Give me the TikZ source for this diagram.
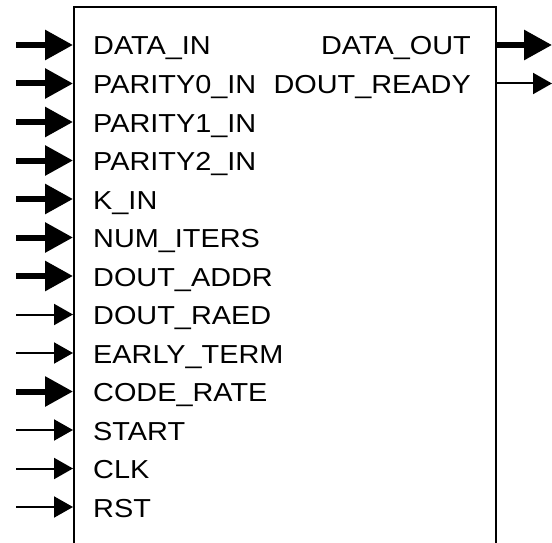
\documentclass[tikz,border=0pt]{standalone}
\usepackage{fontspec}
\setmainfont{Liberation Sans}[FakeStretch=1.11]
\usetikzlibrary{arrows.meta}
\tikzset{
  pinin/.style={anchor=base west, inner sep=0pt, font=\fontsize{26}{26}\selectfont},
  pinout/.style={anchor=base east, inner sep=0pt, font=\fontsize{26}{26}\selectfont},
  bus/.style={line width=6pt, -{Triangle[length=28pt,width=29pt]}},
  wire/.style={line width=2pt, -{Triangle[length=19pt,width=21pt]}},
}

\begin{document}
\begin{tikzpicture}[x=1pt, y=-1pt]
  \useasboundingbox (0,0) rectangle (552,543);
  % block outline, open at the bottom
  \coordinate (blk-sw) at (74,543);
  \coordinate (blk-ne) at (496,7);
  \coordinate (blk-se) at (496,543);
  \draw [line width=2pt] (blk-sw) |- (blk-ne) -- (blk-se);
  % inputs
  \foreach \name/\txt/\kind [count=\i from 0] in {
      din/DATA\_IN/bus, par0/PARITY0\_IN/bus, par1/PARITY1\_IN/bus,
      par2/PARITY2\_IN/bus, kin/K\_IN/bus, iters/NUM\_ITERS/bus,
      addr/DOUT\_ADDR/bus, raed/DOUT\_RAED/wire, early/EARLY\_TERM/wire,
      rate/CODE\_RATE/bus, start/START/wire, clk/CLK/wire, rst/RST/wire}
  {
    \coordinate (\name-src) at (16, 45+38.5*\i);
    \coordinate (\name-pin) at (73, 45+38.5*\i);
    \node [pinin] (\name) at (93, 55+38.5*\i) {\txt};
    \draw [\kind] (\name-src) -- (\name-pin);
  }
  % outputs
  \foreach \name/\txt/\kind [count=\i from 0] in {
      dout/DATA\_OUT/bus, rdy/DOUT\_READY/wire}
  {
    \coordinate (\name-pin) at (497, 45+38.5*\i);
    \coordinate (\name-dst) at (552, 45+38.5*\i);
    \node [pinout] (\name) at (471, 55+38.5*\i) {\txt};
    \draw [\kind] (\name-pin) -- (\name-dst);
  }
\end{tikzpicture}
\end{document}
